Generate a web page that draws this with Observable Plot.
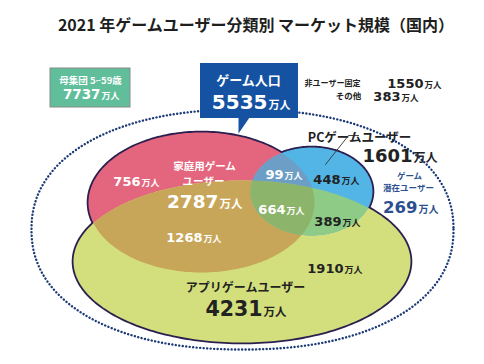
<!DOCTYPE html>
<html><head><meta charset="utf-8">
<script src="https://cdn.jsdelivr.net/npm/d3@7"></script>
<script src="https://cdn.jsdelivr.net/npm/@observablehq/plot@0.6"></script>
<style>
body{margin:0;background:#fff;width:484px;height:364px;overflow:hidden;font-family:"Noto Sans CJK JP",sans-serif}
#title{position:relative;height:40px;width:484px}
#title span{position:absolute;left:0;top:14px;width:484px;line-height:20px;font-size:16px;font-weight:700;text-align:center;color:#1e1e1e;white-space:nowrap;transform:translateX(14px)}
#chart svg{display:block}
</style></head><body>
<div id="title"><span></span></div>
<div id="chart"></div>
<script>
// ---------- data ----------
const titleText = "2021 年ゲームユーザー分類別 マーケット規模（国内）";
const unit = "万人";
const groupNames = ["家庭用ゲームユーザー", "PCゲームユーザー", "アプリゲームユーザー"];
const groupTotals = [2787, 1601, 4231];
const segmentNames = ["家庭用のみ", "家庭用×PC", "PCのみ", "家庭用×アプリ", "全て", "PC×アプリ", "アプリのみ"];
const segmentValues = [756, 99, 448, 1268, 664, 389, 1910];
const populationLabel = "母集団 5~59歳";
const populationValue = 7737;
const gamePopLabel = "ゲーム人口";
const gamePopValue = 5535;
const otherLabels = ["非ユーザー固定", "その他"];
const otherValues = [1550, 383];
const latentLabels = ["ゲーム", "潜在ユーザー"];
const latentValue = 269;

// ---------- layout (pixel geometry, styles) ----------
const TOP = 40;
const ellipses = { // cx, cy, rx, ry
  home: [201, 202, 113, 70],
  pc:   [311, 191, 61, 44],
  app:  [241.5, 261, 168.5, 81]
};
const outer = [242, 229, 211, 120, 2.2];
const col = {
  home: "#e4657e", app: "#d3df7c", pc: "#52b5e6",
  homeApp: "#c8a659", homePc: "#6d9ec6", pcApp: "#8ecb86", all: "#8db46b",
  outline: "#2a1f4f", dots: "#1c3a78", dark: "#222222", white: "#ffffff", navy: "#2b4f8f",
  popBox: "#60be9b", gameBox: "#1552a2"
};
const NUM_FONT = "DejaVu Sans, Noto Sans CJK JP, sans-serif";
const JP_FONT = "Noto Sans CJK JP, sans-serif";

document.querySelector("#title span").textContent = titleText;

function ellipsePts([cx, cy, rx, ry], n = 240) {
  return d3.range(n).map(i => {
    const t = (i / n) * 2 * Math.PI;
    return [cx + rx * Math.cos(t), cy + ry * Math.sin(t)];
  });
}
function superPts([cx, cy, a, b, p], n = 400) {
  return d3.range(n + 1).map(i => {
    const t = (i / n) * 2 * Math.PI, c = Math.cos(t), s = Math.sin(t);
    return [cx + a * Math.sign(c) * Math.pow(Math.abs(c), 2 / p), cy + b * Math.sign(s) * Math.pow(Math.abs(s), 2 / p)];
  });
}
function clip(subject, clipPoly) {
  let output = subject;
  const cross = (u, v) => u[0] * v[1] - u[1] * v[0];
  for (let i = 0; i < clipPoly.length && output.length; i++) {
    const a = clipPoly[i], b = clipPoly[(i + 1) % clipPoly.length];
    const d = [b[0] - a[0], b[1] - a[1]];
    const inside = p => cross(d, [p[0] - a[0], p[1] - a[1]]) >= 0;
    const inter = (p, q) => {
      const e = [q[0] - p[0], q[1] - p[1]];
      const t = cross([a[0] - p[0], a[1] - p[1]], d) / cross(e, d);
      return [p[0] + t * e[0], p[1] + t * e[1]];
    };
    const input = output; output = [];
    for (let j = 0; j < input.length; j++) {
      const cur = input[j], prev = input[(j + input.length - 1) % input.length];
      const ci = inside(cur), pi = inside(prev);
      if (ci) { if (!pi) output.push(inter(prev, cur)); output.push(cur); }
      else if (pi) output.push(inter(prev, cur));
    }
  }
  return output;
}

const H = ellipsePts(ellipses.home), P = ellipsePts(ellipses.pc), A = ellipsePts(ellipses.app);
const HA = clip(H, A), HP = clip(H, P), PA = clip(P, A), HPA = clip(HA, P);

const poly = (pts, fill) => Plot.line(pts, {x: d => d[0], y: d => d[1], fill, stroke: "none", curve: "linear-closed"});
const ring = (pts) => Plot.line(pts, {x: d => d[0], y: d => d[1], fill: "none", stroke: col.outline, strokeWidth: 3.6, curve: "linear-closed"});

// number + unit labels
const segPos = [[140, 185], [283, 178], [340, 183], [202, 241], [285, 213], [341, 225], [343, 272]];
const segColor = [col.white, col.white, col.dark, col.white, col.white, col.dark, col.dark];
const numLabels = [
  ...segmentValues.map((v, i) => ({v, x: segPos[i][0], y: segPos[i][1], s: 13, u: 9, c: segColor[i]})),
  {v: groupTotals[0], x: 218, y: 207.5, s: 18.5, u: 11.5, c: col.white},
  {v: groupTotals[1], x: 412, y: 161, s: 18, u: 12, c: col.dark},
  {v: groupTotals[2], x: 262, y: 315, s: 20.5, u: 11.5, c: col.dark},
  {v: populationValue, x: 100, y: 98, s: 13.5, u: 9, c: col.white},
  {v: gamePopValue, x: 267, y: 108, s: 20, u: 11, c: col.white},
  {v: otherValues[0], x: 423, y: 87, s: 13, u: 8.5, c: col.dark},
  {v: otherValues[1], x: 400, y: 100, s: 13, u: 8.5, c: col.dark},
  {v: latentValue, x: 417, y: 212, s: 16.5, u: 10, c: col.navy}
];
// plain text labels
const txtLabels = [
  {t: groupNames[0].slice(0, 6), x: 204, y: 166, s: 10.5, c: col.white, a: "middle"},
  {t: groupNames[0].slice(6), x: 203, y: 181.5, s: 10.5, c: col.white, a: "middle"},
  {t: groupNames[1], x: 359, y: 137, s: 12.5, c: col.dark, a: "start"},
  {t: groupNames[2], x: 245, y: 288, s: 12, c: col.dark, a: "middle"},
  {t: populationLabel, x: 90, y: 80, s: 9.5, c: col.white, a: "middle"},
  {t: gamePopLabel, x: 248, y: 80.5, s: 13, c: col.white, a: "middle"},
  {t: otherLabels[0], x: 332, y: 83, s: 8, c: col.dark, a: "middle"},
  {t: otherLabels[1], x: 348, y: 96, s: 8.5, c: col.dark, a: "middle"},
  {t: latentLabels[0], x: 409, y: 175.6, s: 8.5, c: col.navy, a: "middle"},
  {t: latentLabels[1], x: 408, y: 188.2, s: 8.5, c: col.navy, a: "middle"}
];

const boxes = [
  {x1: 50, x2: 130, y1: 68, y2: 107, fill: col.popBox, stroke: "#8a8a8a"},
  {x1: 200, x2: 298, y1: 63, y2: 118, fill: col.gameBox, stroke: "none"}
];
const pointer = [[238, 117], [249, 117], [238, 133]];
const leader = [[358, 135], [348, 135], [325, 164]];

const chart = Plot.plot({
  width: 484, height: 364 - TOP, margin: 0,
  x: {type: "linear", domain: [0, 484], range: [0, 484], axis: null},
  y: {type: "linear", domain: [TOP, 364], range: [0, 364 - TOP], axis: null},
  color: {type: "identity"},
  style: {background: "#fff", overflow: "visible"},
  marks: [
    Plot.line(superPts(outer), {x: d => d[0], y: d => d[1], stroke: col.dots, strokeWidth: 2.4, strokeDasharray: "0.1,3.4", strokeLinecap: "round"}),
    ring(H), ring(P), ring(A),
    poly(H, col.home), poly(A, col.app), poly(P, col.pc),
    poly(HA, col.homeApp), poly(HP, col.homePc), poly(PA, col.pcApp), poly(HPA, col.all),
    Plot.rect(boxes, {x1: "x1", x2: "x2", y1: "y1", y2: "y2", fill: "fill", stroke: "stroke", strokeWidth: 1}),
    Plot.line(pointer, {x: d => d[0], y: d => d[1], fill: col.gameBox, stroke: "none", curve: "linear-closed"}),
    Plot.line(leader, {x: d => d[0], y: d => d[1], stroke: "#333", strokeWidth: 0.9}),
    Plot.text(numLabels, {x: "x", y: "y", text: d => String(d.v), fontSize: "s", fill: "c", textAnchor: "end", lineAnchor: "bottom", fontFamily: NUM_FONT, fontWeight: "bold"}),
    Plot.text(numLabels, {x: "x", y: "y", text: () => unit, fontSize: "u", fill: "c", textAnchor: "start", lineAnchor: "bottom", dx: 1, fontFamily: JP_FONT, fontWeight: "bold"}),
    Plot.text(txtLabels, {x: "x", y: "y", text: "t", fontSize: "s", fill: "c", textAnchor: "a", fontFamily: JP_FONT, fontWeight: "bold"})
  ]
});
document.getElementById("chart").appendChild(chart);
</script>
</body></html>
